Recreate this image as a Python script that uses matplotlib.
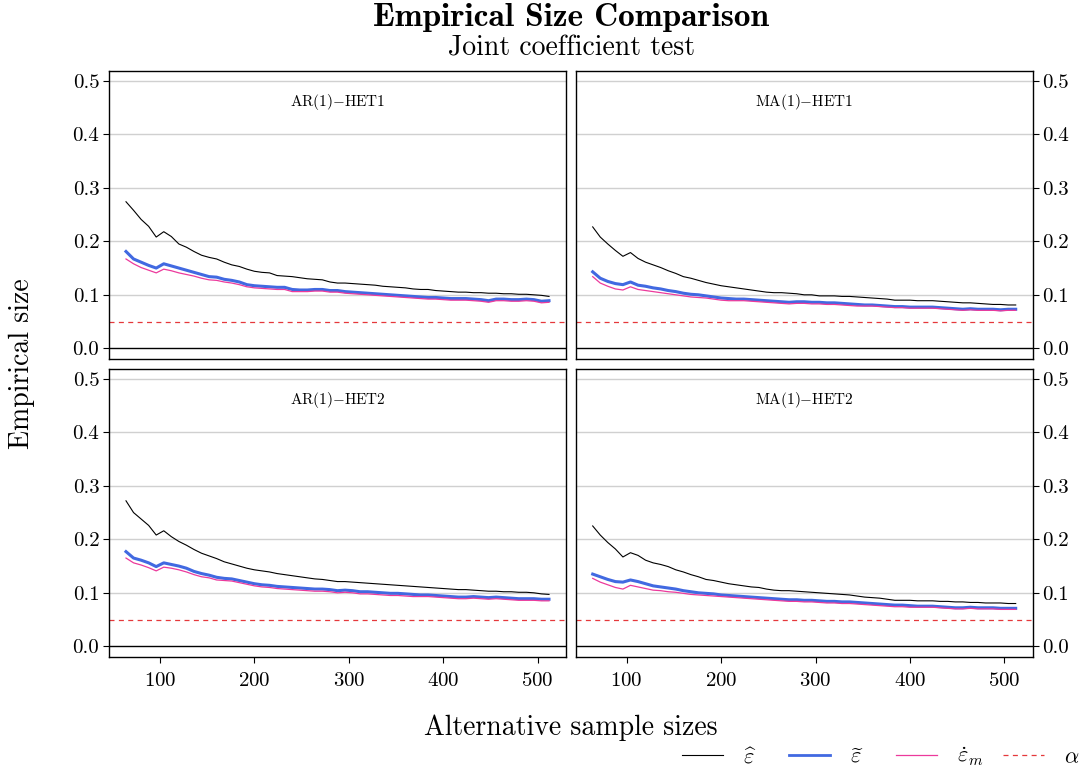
import matplotlib
matplotlib.use('Agg')
import matplotlib.pyplot as plt
from matplotlib.lines import Line2D

plt.rcParams['font.family'] = ['cmr10', 'DejaVu Serif']
plt.rcParams['mathtext.fontset'] = 'cm'
plt.rcParams['axes.formatter.use_mathtext'] = True

# sample sizes (read every 8th point off the picture)
sample_sizes = list(range(64, 513, 8))

# AR(1)-HET1
ar1_het1_hat = [0.274, 0.258, 0.241, 0.228, 0.208, 0.218, 0.209, 0.195, 0.189, 0.181, 0.174, 0.170, 0.167, 0.161,
                0.156, 0.153, 0.148, 0.144, 0.142, 0.141, 0.136, 0.135, 0.134, 0.132, 0.130, 0.129, 0.128, 0.124,
                0.122, 0.122, 0.121, 0.120, 0.119, 0.118, 0.116, 0.115, 0.114, 0.113, 0.111, 0.110, 0.110, 0.108,
                0.107, 0.106, 0.105, 0.105, 0.104, 0.104, 0.103, 0.103, 0.102, 0.102, 0.101, 0.101, 0.100, 0.099,
                0.097]
ar1_het1_tilde = [0.181, 0.167, 0.161, 0.155, 0.150, 0.158, 0.154, 0.150, 0.146, 0.142, 0.138, 0.134, 0.133, 0.129,
                  0.127, 0.124, 0.119, 0.117, 0.116, 0.115, 0.114, 0.114, 0.110, 0.109, 0.109, 0.110, 0.110, 0.108,
                  0.108, 0.106, 0.105, 0.104, 0.103, 0.102, 0.101, 0.100, 0.099, 0.098, 0.097, 0.096, 0.095, 0.095,
                  0.094, 0.093, 0.093, 0.093, 0.092, 0.091, 0.089, 0.092, 0.092, 0.091, 0.091, 0.092, 0.091, 0.088,
                  0.089]
ar1_het1_dot = [0.167, 0.158, 0.151, 0.146, 0.141, 0.148, 0.145, 0.141, 0.138, 0.135, 0.131, 0.128, 0.127, 0.124,
                0.122, 0.119, 0.115, 0.113, 0.112, 0.111, 0.110, 0.110, 0.106, 0.106, 0.106, 0.107, 0.107, 0.105,
                0.105, 0.103, 0.102, 0.101, 0.100, 0.099, 0.098, 0.097, 0.096, 0.095, 0.094, 0.093, 0.092, 0.092,
                0.091, 0.090, 0.090, 0.090, 0.089, 0.088, 0.086, 0.089, 0.089, 0.088, 0.088, 0.089, 0.088, 0.085,
                0.086]

# MA(1)-HET1
ma1_het1_hat = [0.227, 0.208, 0.195, 0.183, 0.172, 0.179, 0.168, 0.161, 0.156, 0.151, 0.145, 0.140, 0.134, 0.131,
                0.127, 0.123, 0.120, 0.117, 0.115, 0.113, 0.111, 0.109, 0.107, 0.105, 0.104, 0.104, 0.103, 0.102,
                0.100, 0.100, 0.098, 0.098, 0.098, 0.097, 0.097, 0.096, 0.095, 0.094, 0.093, 0.092, 0.090, 0.090,
                0.090, 0.089, 0.089, 0.089, 0.088, 0.087, 0.086, 0.085, 0.085, 0.084, 0.083, 0.082, 0.082, 0.081,
                0.081]
ma1_het1_tilde = [0.143, 0.131, 0.125, 0.121, 0.119, 0.124, 0.118, 0.116, 0.113, 0.111, 0.108, 0.106, 0.103, 0.101,
                  0.100, 0.098, 0.096, 0.094, 0.093, 0.092, 0.092, 0.091, 0.090, 0.089, 0.088, 0.087, 0.086, 0.087,
                  0.087, 0.086, 0.086, 0.085, 0.085, 0.084, 0.083, 0.082, 0.081, 0.081, 0.080, 0.079, 0.078, 0.078,
                  0.077, 0.077, 0.077, 0.077, 0.076, 0.075, 0.074, 0.073, 0.074, 0.073, 0.073, 0.073, 0.072, 0.073,
                  0.073]
ma1_het1_dot = [0.134, 0.122, 0.116, 0.111, 0.109, 0.115, 0.110, 0.108, 0.106, 0.104, 0.102, 0.100, 0.098, 0.096,
                0.095, 0.094, 0.092, 0.090, 0.089, 0.089, 0.089, 0.088, 0.087, 0.086, 0.085, 0.084, 0.083, 0.084,
                0.084, 0.083, 0.083, 0.082, 0.082, 0.081, 0.080, 0.079, 0.079, 0.079, 0.078, 0.077, 0.076, 0.076,
                0.075, 0.075, 0.075, 0.075, 0.074, 0.073, 0.072, 0.071, 0.072, 0.071, 0.071, 0.071, 0.070, 0.071,
                0.071]

# AR(1)-HET2
ar1_het2_hat = [0.272, 0.250, 0.238, 0.226, 0.208, 0.216, 0.205, 0.196, 0.189, 0.181, 0.174, 0.169, 0.164, 0.158,
                0.154, 0.150, 0.146, 0.143, 0.141, 0.139, 0.136, 0.134, 0.132, 0.130, 0.128, 0.126, 0.125, 0.123,
                0.121, 0.121, 0.120, 0.119, 0.118, 0.117, 0.116, 0.115, 0.114, 0.113, 0.112, 0.111, 0.110, 0.109,
                0.108, 0.107, 0.106, 0.106, 0.105, 0.104, 0.103, 0.103, 0.102, 0.102, 0.101, 0.101, 0.100, 0.098,
                0.097]
ar1_het2_tilde = [0.177, 0.165, 0.161, 0.156, 0.149, 0.156, 0.153, 0.150, 0.146, 0.140, 0.136, 0.133, 0.129, 0.127,
                  0.126, 0.123, 0.120, 0.117, 0.115, 0.114, 0.112, 0.111, 0.110, 0.109, 0.108, 0.107, 0.107, 0.106,
                  0.104, 0.105, 0.104, 0.102, 0.102, 0.101, 0.100, 0.099, 0.099, 0.098, 0.097, 0.096, 0.096, 0.095,
                  0.094, 0.093, 0.092, 0.092, 0.093, 0.092, 0.091, 0.092, 0.091, 0.090, 0.089, 0.089, 0.089, 0.088,
                  0.088]
ar1_het2_dot = [0.165, 0.156, 0.152, 0.147, 0.141, 0.148, 0.146, 0.143, 0.139, 0.134, 0.130, 0.128, 0.124, 0.123,
                0.122, 0.119, 0.116, 0.113, 0.111, 0.110, 0.108, 0.107, 0.106, 0.105, 0.104, 0.103, 0.103, 0.102,
                0.100, 0.101, 0.100, 0.098, 0.098, 0.097, 0.096, 0.095, 0.095, 0.094, 0.093, 0.093, 0.093, 0.092,
                0.091, 0.090, 0.089, 0.089, 0.090, 0.089, 0.088, 0.089, 0.088, 0.087, 0.086, 0.086, 0.086, 0.085,
                0.085]

# MA(1)-HET2
ma1_het2_hat = [0.225, 0.208, 0.194, 0.182, 0.167, 0.175, 0.170, 0.161, 0.156, 0.153, 0.149, 0.143, 0.139, 0.134,
                0.130, 0.125, 0.123, 0.120, 0.117, 0.115, 0.113, 0.111, 0.110, 0.107, 0.105, 0.104, 0.104, 0.103,
                0.102, 0.101, 0.100, 0.099, 0.098, 0.097, 0.096, 0.094, 0.092, 0.091, 0.090, 0.088, 0.086, 0.086,
                0.086, 0.085, 0.085, 0.085, 0.084, 0.084, 0.083, 0.083, 0.082, 0.082, 0.081, 0.081, 0.081, 0.080,
                0.080]
ma1_het2_tilde = [0.135, 0.130, 0.125, 0.121, 0.120, 0.124, 0.121, 0.117, 0.113, 0.111, 0.109, 0.107, 0.104, 0.102,
                  0.100, 0.099, 0.098, 0.096, 0.095, 0.094, 0.093, 0.092, 0.091, 0.090, 0.089, 0.088, 0.087, 0.087,
                  0.086, 0.086, 0.085, 0.084, 0.084, 0.083, 0.083, 0.082, 0.081, 0.080, 0.079, 0.078, 0.077, 0.077,
                  0.076, 0.075, 0.075, 0.075, 0.074, 0.073, 0.072, 0.072, 0.073, 0.072, 0.072, 0.072, 0.071, 0.071,
                  0.071]
ma1_het2_dot = [0.127, 0.120, 0.115, 0.110, 0.107, 0.114, 0.111, 0.108, 0.105, 0.104, 0.102, 0.101, 0.099, 0.097,
                0.096, 0.095, 0.094, 0.093, 0.092, 0.091, 0.090, 0.089, 0.088, 0.087, 0.086, 0.085, 0.084, 0.084,
                0.083, 0.083, 0.082, 0.081, 0.081, 0.080, 0.080, 0.079, 0.078, 0.077, 0.076, 0.075, 0.074, 0.074,
                0.073, 0.073, 0.073, 0.073, 0.072, 0.071, 0.070, 0.070, 0.071, 0.070, 0.070, 0.070, 0.069, 0.069,
                0.069]

alpha_level = 0.05
panel_titles = ['AR(1)$-$HET1', 'MA(1)$-$HET1', 'AR(1)$-$HET2', 'MA(1)$-$HET2']
y_ticks = [0.0, 0.1, 0.2, 0.3, 0.4, 0.5]
x_ticks = [100, 200, 300, 400, 500]

panels = [
    (ar1_het1_hat, ar1_het1_tilde, ar1_het1_dot),
    (ma1_het1_hat, ma1_het1_tilde, ma1_het1_dot),
    (ar1_het2_hat, ar1_het2_tilde, ar1_het2_dot),
    (ma1_het2_hat, ma1_het2_tilde, ma1_het2_dot),
]

col_black = 'black'
col_blue = '#4169E1'
col_pink = '#EC3A9C'
col_red = '#E5383B'

W, H = 1084, 767
fig = plt.figure(figsize=(W / 100, H / 100), dpi=100)

# panel rectangles in pixels: left, top, width, height
rects = [(109, 70.7, 457, 288.3), (575.7, 70.7, 457, 288.3),
         (109, 368.7, 457, 288.3), (575.7, 368.7, 457, 288.3)]

for i, (rect, series) in enumerate(zip(rects, panels)):
    l, t, w, h = rect
    ax = fig.add_axes([l / W, 1 - (t + h) / H, w / W, h / H])
    hat, tilde, dot = series

    for yv in y_ticks[1:]:
        ax.axhline(yv, color='#D0D0D0', lw=1.0, zorder=0)
    ax.axhline(0, color='black', lw=1.0, zorder=1)
    ax.axhline(alpha_level, color=col_red, lw=0.9, ls=(0, (4, 3.5)), zorder=2)

    ax.plot(sample_sizes, hat, color=col_black, lw=0.8, zorder=3)
    ax.plot(sample_sizes, tilde, color=col_blue, lw=2.2, zorder=4)
    ax.plot(sample_sizes, dot, color=col_pink, lw=0.9, zorder=5)

    ax.set_xlim(46, 530)
    ax.set_ylim(-0.02, 0.519)
    ax.set_yticks(y_ticks)
    ax.set_yticklabels([f'{v:.1f}' for v in y_ticks])
    ax.set_xticks(x_ticks)

    for sp in ax.spines.values():
        sp.set_linewidth(1.0)

    right_col = i % 2 == 1
    bottom_row = i >= 2
    ax.tick_params(axis='y', direction='out', length=4, width=0.8, labelsize=15, pad=3,
                   left=not right_col, labelleft=not right_col,
                   right=right_col, labelright=right_col)
    ax.tick_params(axis='x', direction='out', length=4, width=0.8, labelsize=15, pad=7,
                   bottom=bottom_row, labelbottom=bottom_row)

    ax.text(0.5, 0.893, panel_titles[i], transform=ax.transAxes, ha='center', va='center', fontsize=11)

fig.text(571 / W, 1 - 26 / H, 'Empirical Size Comparison', ha='center', va='baseline',
         fontfamily='cmb10', fontsize=24)
fig.text(571 / W, 1 - 56 / H, 'Joint coefficient test', ha='center', va='baseline', fontsize=20)
fig.text(571 / W, 1 - 728 / H, 'Alternative sample sizes', ha='center', va='center', fontsize=20)
fig.text(22 / W, 1 - 363.7 / H, 'Empirical size', ha='center', va='center', rotation=90, fontsize=20)

# legend: four keys with equal spacing
legend_items = [
    (Line2D([], [], color=col_black, lw=0.8), r'$\widehat{\varepsilon}$'),
    (Line2D([], [], color=col_blue, lw=2.0), r'$\widetilde{\varepsilon}$'),
    (Line2D([], [], color=col_pink, lw=0.9), r'$\dot{\varepsilon}_m$'),
    (Line2D([], [], color=col_red, lw=0.9, ls=(0, (4, 3.5))), r'$\alpha$'),
]
for k, (handle, label) in enumerate(legend_items):
    fig.legend([handle], [label], loc='center left',
               bbox_to_anchor=((681.7 + k * 107) / W, 1 - 757 / H),
               frameon=False, fontsize=16, handlelength=1.85, handletextpad=0.9,
               borderpad=0, borderaxespad=0)

fig.savefig('out.png', dpi=100)
